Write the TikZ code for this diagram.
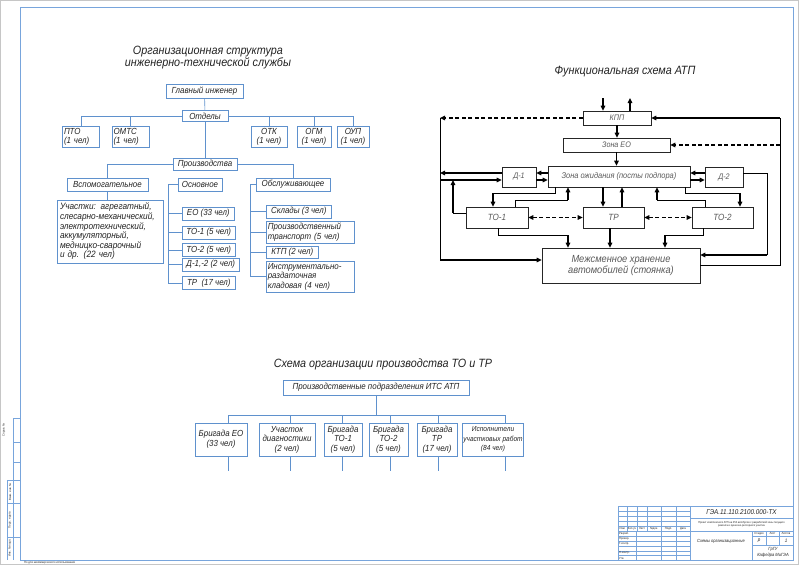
\documentclass[tikz,border=0pt]{standalone}
\usepackage{fontspec}
\setmainfont{Liberation Sans}[FakeStretch=0.9]
\usetikzlibrary{arrows.meta}
\definecolor{bl}{RGB}{95,145,205}
\definecolor{fr}{RGB}{120,165,220}
\definecolor{tx}{RGB}{35,35,35}
\begin{document}
\begin{tikzpicture}[x=1pt,y=-1pt,
  bx/.style={draw=bl, line width=0.6pt, inner sep=1.5pt, text=tx, font=\itshape\fontsize{8.8}{9.6}\selectfont},
  lbx/.style={bx, align=left},
  cbx/.style={bx, align=center},
  ln/.style={draw=bl, line width=0.6pt},
  ttl/.style={text=tx, font=\itshape\fontsize{12}{12}\selectfont, align=center, inner sep=0pt},
  fbx/.style={draw=black!85, line width=0.6pt, text=black!65, font=\itshape\fontsize{8}{9}\selectfont, inner sep=1pt, align=center},
  rt/.style={draw=black, line width=0.8pt},
  ar/.style={draw=black, line width=1.3pt, -{Triangle[length=5pt,width=4.5pt]}},
  dar/.style={ar, dash pattern=on 4pt off 2.5pt},
  ddar/.style={draw=black, line width=1.3pt, {Triangle[length=5pt,width=4.5pt]}-{Triangle[length=5pt,width=4.5pt]}, dash pattern=on 4pt off 2.5pt},
  fl/.style={draw=fr, line width=0.5pt},
  st/.style={text=tx, inner sep=0pt, font=\fontsize{3}{3.5}\selectfont}
]
\useasboundingbox (0,0) rectangle (800,566);
\fill[white] (0,0) rectangle (800,566);
% ---------- sheet frame ----------
\draw[gray!45, line width=1pt] (0.8,0.8) rectangle (798,564.5);
\draw[fr, line width=0.9pt] (20,7) rectangle (793,560);
% left strip
\draw[fl] (13,418) -- (13,480) (13,418) -- (20,418) (13,442) -- (20,442) (13,462) -- (20,462);
\draw[fl] (7,480) -- (7,560) (13,480) -- (13,560) (7,480) -- (20,480) (7,503) -- (20,503) (7,537) -- (20,537);
\node[st, rotate=90] (s1) at (4,430) {Справ. №};
\node[st, rotate=90] (s2) at (10,520) {Подп. и дата};
\node[st, rotate=90] (s3) at (10,548) {Инв. № подл.};
\node[st, rotate=90] (s4) at (10,492) {Взам. инв. №};
\node[st, anchor=west] (s5) at (24,563) {По для некоммерческого использования};
% title block
\draw[fl, line width=0.7pt] (618,506) rectangle (793,560);
\foreach \yy in {511,516,521,526,531,536,541,546,551,555.5} {\draw[fl] (618,\yy) -- (690,\yy);}
\foreach \xx in {627,637,647,661,676} {\draw[fl] (\xx,506) -- (\xx,531);}
\foreach \xx in {636,661,676} {\draw[fl] (\xx,531) -- (\xx,560);}
\draw[fl, line width=0.7pt] (690,506) -- (690,560);
\draw[fl] (690,518) -- (793,518) (690,531) -- (793,531) (752,531) -- (752,560) (752,536) -- (793,536) (752,545) -- (793,545) (766,531) -- (766,545) (779,531) -- (779,545);
\node[st] (h1) at (622.5,528.5) {Изм.};
\node[st] (h2) at (632,528.5) {Кол.уч};
\node[st] (h3) at (642,528.5) {Лист};
\node[st] (h4) at (654,528.5) {№док.};
\node[st] (h5) at (668.5,528.5) {Подп.};
\node[st] (h6) at (683,528.5) {Дата};
\node[st, anchor=west] (r1) at (619,533.5) {Разраб.};
\node[st, anchor=west] (r2) at (619,538.5) {Провер.};
\node[st, anchor=west] (r3) at (619,543.5) {Т.контр.};
\node[st, anchor=west] (r4) at (619,553) {Н.контр.};
\node[st, anchor=west] (r5) at (619,558) {Утв.};
\node[text=tx, inner sep=0pt, font=\itshape\fontsize{7}{8}\selectfont] (code) at (741.5,512) {ГЭА.11.110.2100.000-ТХ};
\node[st, align=center, font=\fontsize{2.8}{3.4}\selectfont] (desc) at (741.5,524.5) {Проект комплексного АТП на 250 автобусов с разработкой зоны текущего\\ремонта и кузнечно-рессорного участка};
\node[text=tx, inner sep=0pt, font=\itshape\fontsize{4.5}{5}\selectfont] (nm) at (721,541) {Схемы организационные};
\node[st] (c1) at (759,533.5) {Стадия};
\node[st] (c2) at (772.5,533.5) {Лист};
\node[st] (c3) at (786,533.5) {Листов};
\node[text=tx, inner sep=0pt, font=\itshape\fontsize{5}{5}\selectfont] (v1) at (759,541) {р};
\node[text=tx, inner sep=0pt, font=\itshape\fontsize{5}{5}\selectfont] (v3) at (786,541) {1};
\node[text=tx, inner sep=0pt, align=center, font=\itshape\fontsize{4.5}{6.5}\selectfont] (org) at (773,552.5) {ГрГУ\\Кафедра МиГЭА};

% ---------- organisational structure ----------
\node[ttl] (t1) at (208,58) {Организационная структура\\инженерно-технической службы};
\node[bx, minimum width=77, minimum height=14] (gi) at (204.5,91) {Главный инженер};
\node[bx, minimum width=46, minimum height=11] (otd) at (205,116) {Отделы};
\node[lbx, text width=34, minimum height=20] (pto) at (81,137) {ПТО\\(1 чел)};
\node[lbx, text width=34, minimum height=20] (omts) at (130.5,137) {ОМТС\\(1 чел)};
\node[cbx, minimum width=36, minimum height=20] (otk) at (269,137) {ОТК\\(1 чел)};
\node[cbx, minimum width=34, minimum height=20] (ogm) at (314,137) {ОГМ\\(1 чел)};
\node[cbx, minimum width=32, minimum height=20] (oup) at (353,137) {ОУП\\(1 чел)};
\draw[ln] (gi) -- (otd);
\draw[ln] (otd.west) -| (pto.north);
\draw[ln] (otd.west) -| (omts.north);
\draw[ln] (otd.east) -| (otk.north);
\draw[ln] (otd.east) -| (ogm.north);
\draw[ln] (otd.east) -| (oup.north);
\node[bx, minimum width=64, minimum height=12] (prod) at (205,164.5) {Производства};
\draw[ln] (otd) -- (prod);
\node[bx, minimum width=81, minimum height=13] (vsp) at (107.5,184.5) {Вспомогательное};
\node[bx, minimum width=44, minimum height=13] (osn) at (200,184.5) {Основное};
\node[bx, minimum width=74, minimum height=13] (obs) at (293,184.5) {Обслуживающее};
\draw[ln] (prod.west) -| (vsp.north);
\draw[ln] (prod.east) -| (obs.north);
\node[lbx, text width=100, minimum height=63, inner sep=3pt, font=\itshape\fontsize{9.2}{9.6}\selectfont] (uch) at (110,231.5) {Участки: агрегатный,\\слесарно-механический,\\электротехнический,\\аккумуляторный,\\медницко-сварочный\\и др. (22 чел)};
\draw[ln] (vsp.south) -- (vsp.south |- uch.north);
% Основное
\node[bx, anchor=west, minimum width=52, minimum height=13] (eo) at (182,213.5) {ЕО (33 чел)};
\node[bx, anchor=west, minimum width=53, minimum height=13] (to1a) at (182,232.5) {ТО-1 (5 чел)};
\node[bx, anchor=west, minimum width=53, minimum height=13] (to2a) at (182,250) {ТО-2 (5 чел)};
\node[bx, anchor=west, minimum width=57, minimum height=13] (d12) at (182,264.5) {Д-1,-2 (2 чел)};
\node[bx, anchor=west, minimum width=53, minimum height=13] (tra) at (182,283) {ТР \ (17 чел)};
\coordinate (ob) at (168,184.5);
\draw[ln] (osn.west) -- (ob) |- (tra.west);
\foreach \n in {eo,to1a,to2a,d12} {\draw[ln] (ob |- \n.west) -- (\n.west);}
% Обслуживающее
\node[bx, anchor=west, minimum width=65, minimum height=13] (skl) at (266,211.5) {Склады (3 чел)};
\node[lbx, anchor=west, text width=85, minimum height=22] (ptr) at (266,232) {Производственный\\транспорт (5 чел)};
\node[bx, anchor=west, minimum width=52, minimum height=12] (ktp) at (266,252) {КТП (2 чел)};
\node[lbx, anchor=west, text width=85, minimum height=31] (inst) at (266,276.5) {Инструментально-\\раздаточная\\кладовая (4 чел)};
\coordinate (sb) at (250,184.5);
\draw[ln] (obs.west) -- (sb) |- (inst.west);
\foreach \n in {skl,ptr,ktp} {\draw[ln] (sb |- \n.west) -- (\n.west);}

% ---------- functional scheme ----------
\node[ttl] (t2) at (625,72) {Функциональная схема АТП};
\node[fbx, minimum width=68, minimum height=14] (kpp) at (617,118) {КПП};
\node[fbx, minimum width=107, minimum height=14] (zeo) at (616.5,145) {Зона ЕО};
\node[fbx, minimum width=142, minimum height=21, font=\itshape\fontsize{8.3}{9}\selectfont] (zo) at (619,176.5) {Зона ожидания (посты подпора)};
\node[fbx, minimum width=34, minimum height=20] (d1) at (519,177) {Д-1};
\node[fbx, minimum width=38, minimum height=20] (d2) at (724,177) {Д-2};
\node[fbx, minimum width=62, minimum height=21, font=\itshape\fontsize{9}{10}\selectfont] (to1) at (497,217.5) {ТО-1};
\node[fbx, minimum width=61, minimum height=21, font=\itshape\fontsize{9}{10}\selectfont] (tr) at (613.5,217.5) {ТР};
\node[fbx, minimum width=61, minimum height=21, font=\itshape\fontsize{9}{10}\selectfont] (to2) at (722.5,217.5) {ТО-2};
\node[fbx, minimum width=158, minimum height=35, font=\itshape\fontsize{10.3}{11.5}\selectfont] (msh) at (621,265.5) {Межсменное хранение\\автомобилей (стоянка)};
% coordinates
\coordinate (kin) at (603,98);
\coordinate (kout) at (630,98);
\coordinate (L1) at (440,118);
\coordinate (L2) at (440,260);
\coordinate (R1) at (780,118);
\coordinate (R2) at (780,265.5);
\coordinate (R3) at (780,145);
\coordinate (R4) at (767,173);
\coordinate (ya) at (0,173);
\coordinate (yb) at (0,180);
\coordinate (yc) at (0,255);
\coordinate (yd) at (0,193);
\coordinate (ye) at (0,200);
\coordinate (yf) at (0,213);
\coordinate (yg) at (0,235);
\coordinate (xa) at (555,0);
\coordinate (xb) at (493,0);
\coordinate (xc) at (515,0);
\coordinate (xd) at (568,0);
\coordinate (xe) at (603,0);
\coordinate (xf) at (622,0);
\coordinate (xg) at (657,0);
\coordinate (xh) at (705,0);
\coordinate (xi) at (685,0);
\coordinate (xj) at (740,0);
\coordinate (xk) at (453,0);
\coordinate (xl) at (498,0);
\coordinate (xm) at (568,0);
\coordinate (xn) at (610,0);
\coordinate (xo) at (703,0);
\coordinate (xp) at (665,0);
% КПП and Зона ЕО
\draw[ar] (kin) -- (kin |- kpp.north);
\draw[ar] (kout |- kpp.north) -- (kout);
\draw[ar] (kpp.south) -- (kpp.south |- zeo.north);
\draw[ar] (zeo.south) -- (zeo.south |- zo.north);
\draw[dar] (kpp.west) -- (L1);
\draw[rt] (L1) -- (L2);
\draw[ar] (L2) -- (L2 -| msh.west);
\draw[rt] (msh.east) -- (R2) -- (R1);
\draw[ar] (R1) -- (kpp.east);
\draw[dar] (R3) -- (R3 -| zeo.east);
% Д-1, Д-2
\draw[ar] (d1.west |- ya) -- (L1 |- ya);
\draw[ar] (L1 |- yb) -- (d1.west |- yb);
\draw[ar] (zo.west |- ya) -- (d1.east |- ya);
\draw[ar] (d1.east |- yb) -- (zo.west |- yb);
\draw[ar] (d2.west |- ya) -- (zo.east |- ya);
\draw[ar] (zo.east |- yb) -- (d2.west |- yb);
\draw[rt] (d2.east |- ya) -- (R4) -- (R4 |- yc);
\draw[ar] (R4 |- yc) -- (msh.east |- yc);
% zone <-> posts
\draw[rt] (xa |- zo.south) |- (xb |- yd);
\draw[ar] (xb |- yd) -- (xb |- to1.north);
\draw[rt] (xc |- to1.north) |- (xd |- ye);
\draw[ar] (xd |- ye) -- (xd |- zo.south);
\draw[ar] (xe |- zo.south) -- (xe |- tr.north);
\draw[ar] (xf |- tr.north) -- (xf |- zo.south);
\draw[rt] (xh |- to2.north) |- (xg |- ye);
\draw[ar] (xg |- ye) -- (xg |- zo.south);
\draw[rt] (xi |- zo.south) |- (xj |- yd);
\draw[ar] (xj |- yd) -- (xj |- to2.north);
\draw[ddar] (to1.east) -- (tr.west);
\draw[ddar] (tr.east) -- (to2.west);
\draw[rt] (to1.west |- yf) -- (xk |- yf);
\draw[ar] (xk |- yf) -- (xk |- yb);
% posts -> parking
\draw[rt] (xl |- to1.south) |- (xm |- yg);
\draw[ar] (xm |- yg) -- (xm |- msh.north);
\draw[ar] (xn |- tr.south) -- (xn |- msh.north);
\draw[rt] (xo |- to2.south) |- (xp |- yg);
\draw[ar] (xp |- yg) -- (xp |- msh.north);

% ---------- production scheme ----------
\node[ttl] (t3) at (383,364) {Схема организации производства ТО и ТР};
\node[bx, minimum width=186, minimum height=15] (pp) at (376,387.5) {Производственные подразделения ИТС АТП};
\node[cbx, minimum width=52, minimum height=33] (be) at (221,439.5) {Бригада ЕО\\(33 чел)};
\node[cbx, minimum width=56, minimum height=33] (ud) at (287,439.5) {Участок\\диагностики\\(2 чел)};
\node[cbx, minimum width=38, minimum height=33] (bt1) at (343,439.5) {Бригада\\ТО-1\\(5 чел)};
\node[cbx, minimum width=39, minimum height=33] (bt2) at (388.5,439.5) {Бригада\\ТО-2\\(5 чел)};
\node[cbx, minimum width=40, minimum height=33] (btr) at (437,439.5) {Бригада\\ТР\\(17 чел)};
\node[cbx, minimum width=60, minimum height=33, inner sep=0.8pt, font=\itshape\fontsize{7.3}{9.6}\selectfont] (isp) at (493,439.5) {Исполнители\\участковых работ\\(84 чел)};
\coordinate (bus) at (0,415);
\coordinate (low) at (0,471);
\coordinate (v1) at (228,0);
\coordinate (v2) at (290,0);
\coordinate (v3) at (342,0);
\coordinate (v4) at (390,0);
\coordinate (v5) at (438,0);
\coordinate (v6) at (505,0);
\draw[ln] (pp.south) -- (pp.south |- bus);
\draw[ln] (v1 |- bus) -- (v6 |- bus);
\draw[ln] (v1 |- bus) -- (v1 |- be.north);
\draw[ln] (v2 |- bus) -- (v2 |- ud.north);
\draw[ln] (v3 |- bus) -- (v3 |- bt1.north);
\draw[ln] (v4 |- bus) -- (v4 |- bt2.north);
\draw[ln] (v5 |- bus) -- (v5 |- btr.north);
\draw[ln] (v6 |- bus) -- (v6 |- isp.north);
\draw[ln] (v1 |- be.south) -- (v1 |- low);
\draw[ln] (v2 |- ud.south) -- (v2 |- low);
\draw[ln] (v3 |- bt1.south) -- (v3 |- low);
\draw[ln] (v4 |- bt2.south) -- (v4 |- low);
\draw[ln] (v5 |- btr.south) -- (v5 |- low);
\draw[ln] (v6 |- isp.south) -- (v6 |- low);
\end{tikzpicture}
\end{document}
